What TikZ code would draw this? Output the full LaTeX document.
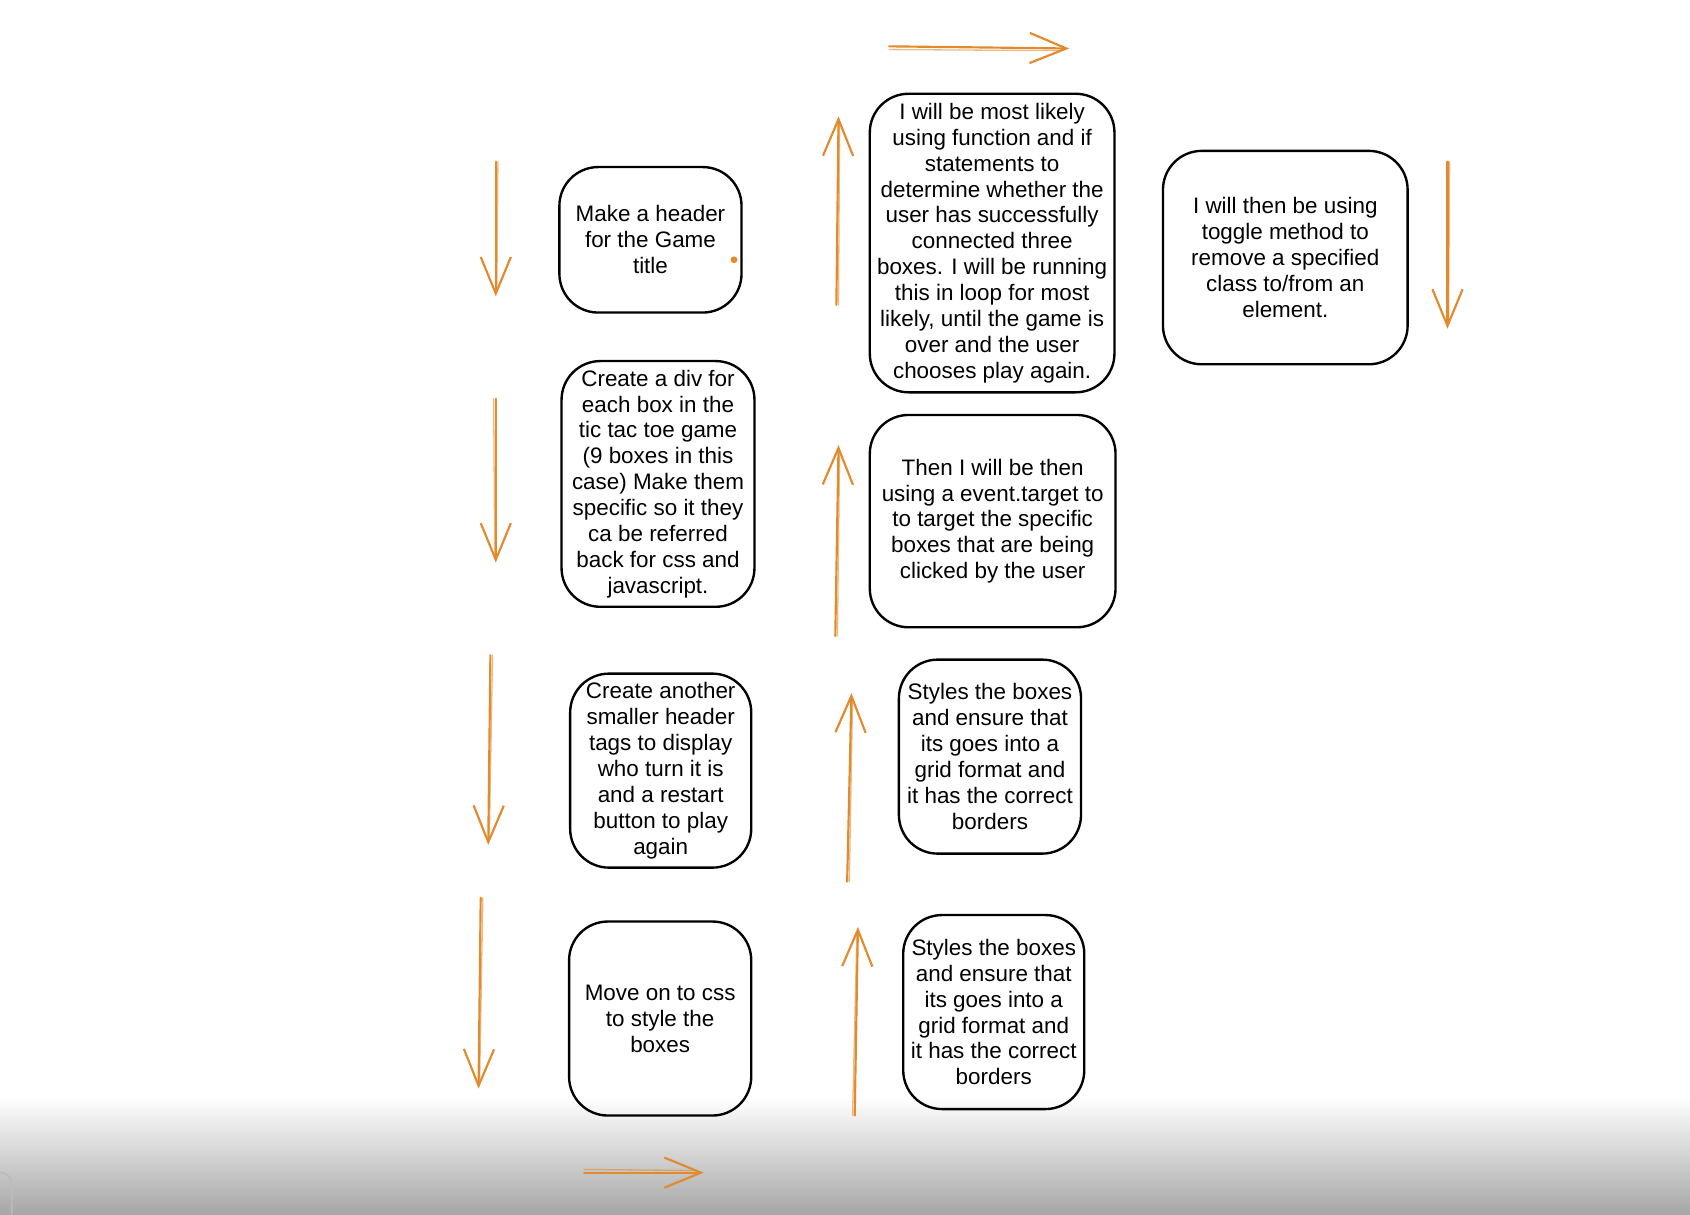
\documentclass[tikz,border=0pt]{standalone}
\usepackage{fontspec}
\setmainfont{Liberation Sans}
\usetikzlibrary{arrows.meta,calc}
\definecolor{arrorange}{RGB}{226,138,46}
\definecolor{fadegray}{RGB}{166,166,166}
\tikzset{
  card/.style={draw=black, line width=1.1pt, rounded corners=18pt, align=center,
    inner sep=0pt, font=\fontsize{10.4pt}{12pt}\selectfont, text=black},
  flowarrow/.style={draw=arrorange, line width=1pt, line cap=round,
    -{Straight Barb[length=17pt,width=14pt,line width=1pt]}},
  ghostline/.style={draw=arrorange, line width=0.6pt, opacity=0.6, line cap=round}
}
\begin{document}
\begin{tikzpicture}[x=0.5pt,y=-0.5pt]
\useasboundingbox (0,0) rectangle (1568,1127);
% screenshot fade at the bottom
\shade[top color=white, bottom color=fadegray] (0,1018) rectangle (1568,1127);
\draw[draw={rgb,255:red,188;green,188;blue,188}, line width=0.8pt]
  (0,1088) .. controls (9,1088) and (11,1094) .. (11,1104) -- (11,1127);

% boxes
\node[card, minimum width=84.5pt, minimum height=67.5pt] (b1) at (603.5,222.5)
  {Make a header\\for the Game\\title};
\node[card, minimum width=89.5pt, minimum height=114pt] (b2) at (610.5,449)
  {Create a div for\\each box in the\\tic tac toe game\\(9 boxes in this\\case) Make them\\specific so it they\\ca be referred\\back for css and\\javascript.};
\node[card, minimum width=84pt, minimum height=90pt] (b3) at (613,715)
  {Create another\\smaller header\\tags to display\\who turn it is\\and a restart\\button to play\\again};
\node[card, minimum width=84.5pt, minimum height=90pt] (b4) at (612.5,945)
  {Move on to css\\to style the\\boxes};
\node[card, minimum width=84pt, minimum height=90pt] (b5) at (922,939)
  {Styles the boxes\\and ensure that\\its goes into a\\grid format and\\it has the correct\\borders};
\node[card, minimum width=84.5pt, minimum height=90pt] (b6) at (918.5,702)
  {Styles the boxes\\and ensure that\\its goes into a\\grid format and\\it has the correct\\borders};
\node[card, minimum width=114pt, minimum height=98.5pt] (b7) at (921,483.5)
  {Then I will be then\\using a event.target to\\to target the specific\\boxes that are being\\clicked by the user};
\node[card, minimum width=113.5pt, minimum height=138.5pt] (b8) at (920.5,225.5)
  {I will be most likely\\using function and if\\statements to\\determine whether the\\user has successfully\\connected three\\boxes. I will be running\\this in loop for most\\likely, until the game is\\over and the user\\chooses play again.};
\node[card, minimum width=113.5pt, minimum height=99pt] (b9) at (1192.5,239)
  {I will then be using\\toggle method to\\remove a specified\\class to/from an\\element.};

% small orange dot in the first box
\fill[arrorange] (681,241) circle (1.6pt);

% arrow end points
\coordinate (d1s) at (460,150);  \coordinate (d1e) at (460,275);
\coordinate (d2s) at (460,370);  \coordinate (d2e) at (460,522);
\coordinate (d3s) at (455,608);  \coordinate (d3e) at (453,784);
\coordinate (d4s) at (446,833);  \coordinate (d4e) at (444,1010);
\coordinate (rbs) at (542,1088); \coordinate (rbe) at (653,1088);
\coordinate (u1s) at (793,1035); \coordinate (u1e) at (796,860);
\coordinate (u2s) at (786,818);  \coordinate (u2e) at (790,643);
\coordinate (u3s) at (775,590);  \coordinate (u3e) at (778,413);
\coordinate (u4s) at (776,283);  \coordinate (u4e) at (778,108);
\coordinate (trs) at (825,43);   \coordinate (tre) at (992,45);
\coordinate (drs) at (1343,150); \coordinate (dre) at (1343,305);

% arrows
\foreach \a in {d1,d2,d3,d4,rb,u1,u2,u3,u4,tr,dr}{
  \draw[flowarrow] (\a s) -- (\a e);
}
% sketchy second strokes
\draw[ghostline] ($(d1s)+(2,0)$) -- ($(d1e)+(1,-6)$);
\draw[ghostline] ($(d2s)+(-2,0)$) -- ($(d2e)+(-1,-6)$);
\draw[ghostline] ($(d3s)+(2,0)$) -- ($(d3e)+(1,-6)$);
\draw[ghostline] ($(d4s)+(2,0)$) -- ($(d4e)+(1,-6)$);
\draw[ghostline] ($(rbs)+(0,-3)$) -- ($(rbe)+(-8,-2)$);
\draw[ghostline] ($(trs)+(0,3)$) -- ($(tre)+(-8,2)$);
\draw[ghostline] ($(u1s)+(-2,0)$) -- ($(u1e)+(-1,6)$);
\draw[ghostline] ($(u2s)+(2,0)$) -- ($(u2e)+(1,6)$);
\draw[ghostline] ($(u3s)+(2,0)$) -- ($(u3e)+(1,6)$);
\draw[ghostline] ($(u4s)+(2,0)$) -- ($(u4e)+(1,6)$);
\draw[ghostline] ($(drs)+(2,0)$) -- ($(dre)+(1,-6)$);
\end{tikzpicture}
\end{document}
